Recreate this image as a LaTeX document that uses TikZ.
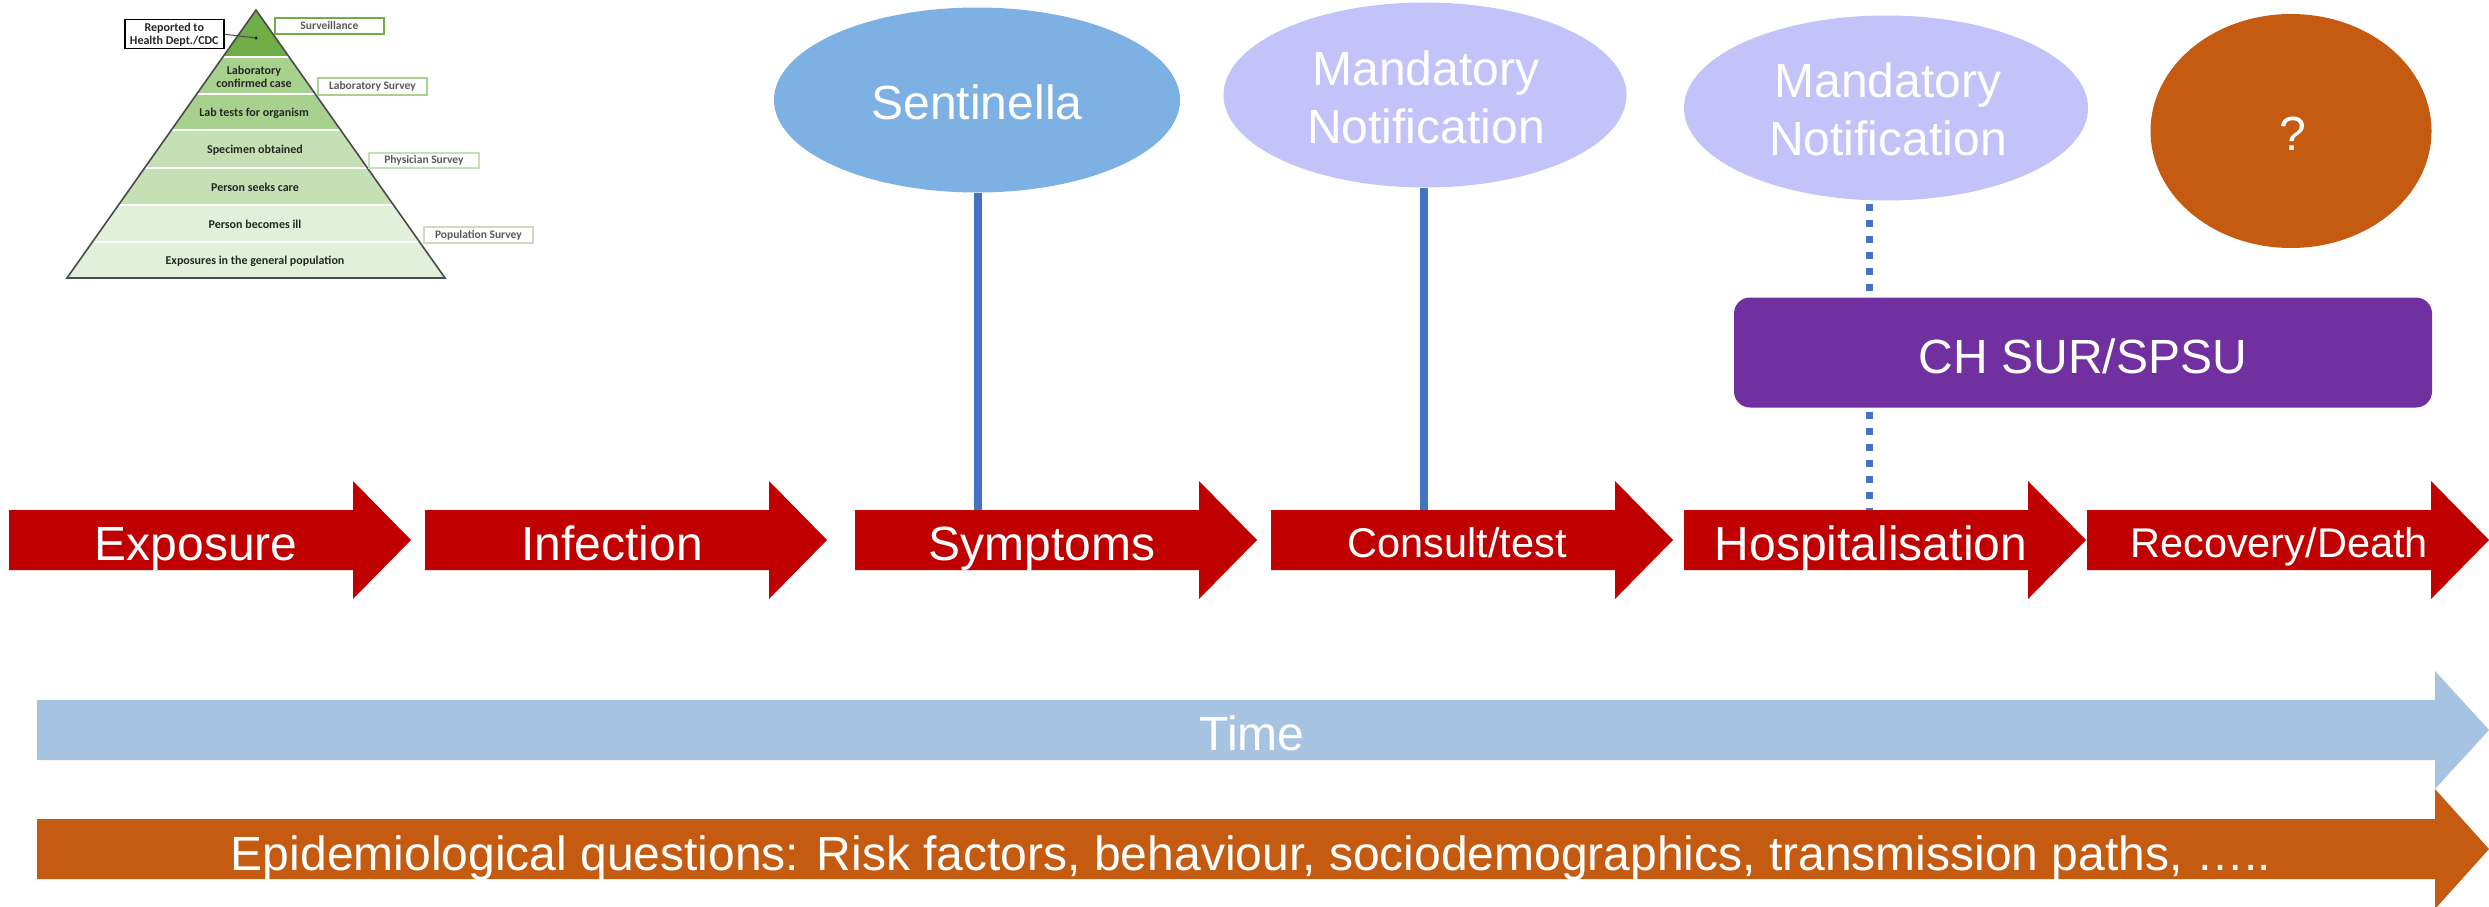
\documentclass[tikz,border=0pt]{standalone}
\usepackage{fontspec}
\setmainfont{Liberation Sans}
\newfontfamily\calfont{Carlito}
\usetikzlibrary{shapes.geometric}
\definecolor{redarr}{HTML}{C00000}
\definecolor{sentblue}{HTML}{7DB1E3}
\definecolor{mandlav}{HTML}{C3C3FA}
\definecolor{orng}{HTML}{C55A11}
\definecolor{purp}{HTML}{7030A0}
\definecolor{lineblue}{HTML}{4472C4}
\definecolor{timeblue}{HTML}{A6C4E2}
\definecolor{gA}{HTML}{70AD47}
\definecolor{gB}{HTML}{A9D18E}
\definecolor{gC}{HTML}{C5E0B4}
\definecolor{gD}{HTML}{E2F0D9}
\definecolor{pyrtext}{HTML}{262626}
\definecolor{lbltext}{HTML}{595959}
\definecolor{pyredge}{HTML}{4A4A4A}
\newcommand\stagearrow[1]{\fill[redarr] (#1,510) -- ++(344,0) -- ++(0,-29) -- ++(58,59) -- ++(-58,59) -- ++(0,-29) -- (#1,570) -- cycle;}
\begin{document}
\begin{tikzpicture}[x=1pt,y=-1pt,
  bigtxt/.style={text=white, font=\fontsize{48}{59}\selectfont, inner sep=0pt, anchor=base},
  midtxt/.style={text=white, font=\fontsize{41.5}{50}\selectfont, inner sep=0pt, anchor=base},
  oval/.style={ellipse, inner sep=0pt, draw=none},
  vline/.style={lineblue, line width=8pt},
  dotline/.style={lineblue, line width=7pt, dash pattern=on 7pt off 9pt},
  pyrtxt/.style={font=\calfont\bfseries\fontsize{12}{14}\selectfont, text=pyrtext, inner sep=0pt, align=center},
  survbox/.style={draw, fill=white, line width=1.8pt, font=\calfont\bfseries\fontsize{11.5}{13}\selectfont, text=lbltext, inner sep=0pt, anchor=north west}
]
\useasboundingbox (0,0) rectangle (2489,907);

% ---------- pyramid ----------
\foreach \ya/\yb/\col in {10/57/gA, 57/94/gB, 94/130/gB, 130/168/gC, 168/205/gC, 205/242/gD, 242/278/gD}{
  \fill[\col] ({256-0.70522*(\ya-10)},\ya) -- ({256+0.70522*(\ya-10)},\ya) -- ({256+0.70522*(\yb-10)},\yb) -- ({256-0.70522*(\yb-10)},\yb) -- cycle;
}
\foreach \yy in {57,94,130,168,205,242}{
  \draw[white, line width=2.5pt] ({256-0.70522*(\yy-10)-2},\yy) -- ({256+0.70522*(\yy-10)+2},\yy);
}
\draw[pyredge, line width=1.6pt, line join=miter] (256,10) -- (67,278) -- (445,278) -- cycle;

\node[pyrtxt] (p2) at (254,77) {Laboratory\\[-1pt]confirmed case};
\node[pyrtxt] (p3) at (254,113) {Lab tests for organism};
\node[pyrtxt] (p4) at (255,150) {Specimen obtained};
\node[pyrtxt] (p5) at (255,187) {Person seeks care};
\node[pyrtxt] (p6) at (255,224) {Person becomes ill};
\node[pyrtxt] (p7) at (255,261) {Exposures in the general population};

\node[draw=black, fill=white, line width=1.5pt, minimum width=99pt, minimum height=29pt, inner sep=0pt, anchor=north west, pyrtxt] (rep) at (124,19) {Reported to\\[-1pt]Health Dept./CDC};
\fill[black] (256,38) circle (1.6pt) coordinate (dot);
\draw[pyredge, line width=1pt] (rep.east) -- (dot);

\node[survbox, draw=gA, minimum width=109pt, minimum height=16pt] (surv) at (274,17) {Surveillance};
\node[survbox, draw=gB, minimum width=109pt, minimum height=17pt] (labs) at (317,77) {Laboratory Survey};
\node[survbox, draw=gC, minimum width=110pt, minimum height=15pt] (phys) at (368,152) {Physician Survey};
\node[survbox, draw=gD!80!gray, minimum width=109pt, minimum height=16pt] (popu) at (423,226) {Population Survey};

% ---------- time & epi arrows ----------
\fill[timeblue] (37,700) -- (2435,700) -- (2435,671) -- (2489,730) -- (2435,789) -- (2435,760) -- (37,760) -- cycle;
\node[bigtxt] (time) at (1252,750) {Time};
\fill[orng] (37,819) -- (2435,819) -- (2435,789) -- (2489,849) -- (2435,909) -- (2435,879) -- (37,879) -- cycle;
\node[bigtxt] (epi) at (1251,870) {Epidemiological questions: Risk factors, behaviour, sociodemographics, transmission paths, …..};

% ---------- stage arrows ----------
\stagearrow{9}
\stagearrow{425}
\stagearrow{855}
\stagearrow{1271}
\stagearrow{1684}
\stagearrow{2087}
\node[bigtxt] (exp) at (196,560) {Exposure};
\node[bigtxt] (inf) at (612,560) {Infection};
\node[bigtxt] (sym) at (1042,560) {Symptoms};
\node[midtxt] (con) at (1457,557) {Consult/test};
\node[bigtxt] (hos) at (1871,560) {Hospitalisation};
\node[midtxt] (rec) at (2279,557) {Recovery/Death};
\coordinate (symtop) at (978,510);
\coordinate (contop) at (1424,510);
\coordinate (hostop) at (1869,510);

% ---------- surveillance systems ----------
\node[oval, fill=sentblue, minimum width=406pt, minimum height=185pt] (sent) at (977,100) {};
\node[bigtxt] (sentt) at (977,119) {Sentinella};
\node[oval, fill=mandlav, minimum width=403pt, minimum height=185pt] (mand1) at (1425,95) {};
\node[bigtxt] (m1a) at (1426,85) {Mandatory};
\node[bigtxt] (m1b) at (1426,143) {Notification};
\node[oval, fill=mandlav, minimum width=404pt, minimum height=185pt] (mand2) at (1886,108) {};
\node[bigtxt] (m2a) at (1888,97) {Mandatory};
\node[bigtxt] (m2b) at (1888,155) {Notification};
\node[oval, fill=orng, minimum width=281pt, minimum height=234pt] (quest) at (2291,131) {};
\node[bigtxt] (questt) at (2293,150) {?};

\draw[vline] (sent.south -| symtop) -- (symtop);
\draw[vline] (mand1.south -| contop) -- (contop);
\coordinate (dottop) at (1869,204);
\draw[dotline] (dottop) -- (hostop);

\node[fill=purp, rounded corners=16pt, minimum width=698pt, minimum height=110pt, inner sep=0pt] (chsur) at (2083,352.5) {};
\node[bigtxt] (chsurt) at (2083,373) {CH SUR/SPSU};
\end{tikzpicture}
\end{document}
